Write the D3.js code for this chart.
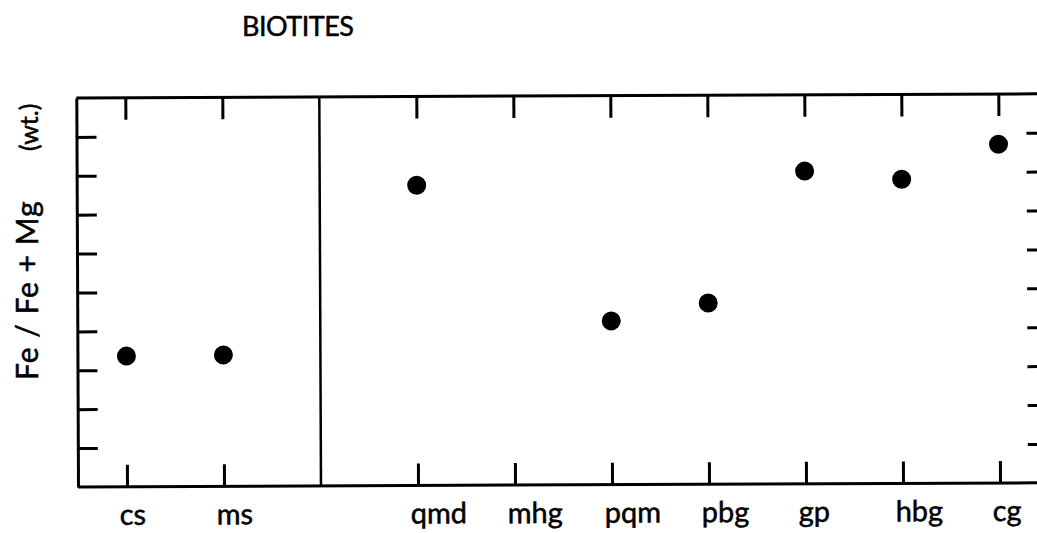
<!DOCTYPE html>
<html>
<head>
<meta charset="utf-8">
<script src="https://cdn.jsdelivr.net/npm/d3@7"></script>
<style>
  html, body { margin: 0; padding: 0; background: #fff; }
  svg { display: block; }
  text { font-family: Lato, "DejaVu Sans", sans-serif; fill: #000; stroke: #000; stroke-width: 0.5px; }
</style>
</head>
<body>
<svg id="chart" width="1037" height="533"></svg>
<script>
// ---- data ----
const title = "BIOTITES";
const yLabelMain = "Fe / Fe + Mg";
const yLabelUnit = "(wt.)";
const leftGroup = ["cs", "ms"];
const rightGroup = ["qmd", "mhg", "pqm", "pbg", "gp", "hbg", "cg"];
const categories = leftGroup.concat(rightGroup);
const ratioValues = [0.336, 0.338, 0.772, null, 0.421, 0.466, 0.804, 0.782, 0.871];
const yTicks = [0.1, 0.2, 0.3, 0.4, 0.5, 0.6, 0.7, 0.8, 0.9];
const dividerKey = "|";

// ---- layout ----
const svg = d3.select("#chart");
const frame = { left: 78, right: 1048, top: 98, bottom: 487 };

const x = d3.scalePoint()
  .domain(leftGroup.concat([dividerKey], rightGroup))
  .range([127, 1000])
  .padding(0);

const y = d3.scaleLinear().domain([0, 1]).range([frame.bottom, frame.top]);

const plot = svg.append("g")
  .attr("transform", `rotate(-0.25, ${frame.left}, ${frame.bottom})`);

const stroke = 3;

function styleAxis(g) {
  g.selectAll("path.domain").attr("stroke", "#000").attr("stroke-width", stroke);
  g.selectAll(".tick line").attr("stroke", "#000").attr("stroke-width", stroke);
  g.selectAll("text").remove();
}

// left axis
plot.append("g")
  .attr("transform", `translate(${frame.left},0)`)
  .call(d3.axisLeft(y).tickValues(yTicks).tickSize(-20).tickSizeOuter(0).tickFormat(""))
  .call(styleAxis);

// right axis (frame edge lies just outside the picture)
plot.append("g")
  .attr("transform", `translate(${frame.right},0)`)
  .call(d3.axisRight(y).tickValues(yTicks).tickSize(-20).tickSizeOuter(0).tickFormat(""))
  .call(styleAxis);

// top axis
plot.append("g")
  .attr("transform", `translate(0,${frame.top})`)
  .call(d3.axisTop(x).tickValues(categories).tickSize(-22).tickSizeOuter(0).tickFormat(""))
  .call(styleAxis)
  .select("path.domain").attr("d", `M${frame.left},0H${frame.right}`);

// bottom axis
const bottomAxis = plot.append("g")
  .attr("transform", `translate(0,${frame.bottom})`)
  .call(d3.axisBottom(x).tickValues(categories).tickSize(-22).tickSizeOuter(0));
bottomAxis.select("path.domain").attr("d", `M${frame.left},0H${frame.right}`)
  .attr("stroke", "#000").attr("stroke-width", stroke);
bottomAxis.selectAll(".tick line").attr("stroke", "#000").attr("stroke-width", stroke);
bottomAxis.selectAll(".tick text")
  .attr("y", 38)
  .attr("dy", 0)
  .attr("x", -8)
  .attr("text-anchor", "start")
  .attr("font-size", null)
  .style("font-size", "29px")
  .style("font-family", "Lato, 'DejaVu Sans', sans-serif");

// divider between groups
plot.append("line")
  .attr("x1", x(dividerKey)).attr("x2", x(dividerKey))
  .attr("y1", frame.top).attr("y2", frame.bottom)
  .attr("stroke", "#000").attr("stroke-width", 2.5);

// points
const pts = categories.map((c, i) => ({ c, v: ratioValues[i] })).filter(d => d.v != null);
plot.append("g").selectAll("circle")
  .data(pts)
  .join("circle")
  .attr("cx", d => x(d.c))
  .attr("cy", d => y(d.v))
  .attr("r", 9.5)
  .attr("fill", "#000");

// title
svg.append("text")
  .attr("x", 242).attr("y", 36)
  .style("font-size", "27px")
  .style("letter-spacing", "-0.5px")
  .text(title);

// y-axis label
svg.append("text")
  .attr("transform", "translate(38,380) rotate(-90)")
  .attr("text-anchor", "start")
  .style("font-size", "30px")
  .style("letter-spacing", "1px")
  .text(yLabelMain);

svg.append("text")
  .attr("transform", "translate(38,151) rotate(-90)")
  .attr("text-anchor", "start")
  .style("font-size", "25px")
  .text(yLabelUnit);
</script>
</body>
</html>
